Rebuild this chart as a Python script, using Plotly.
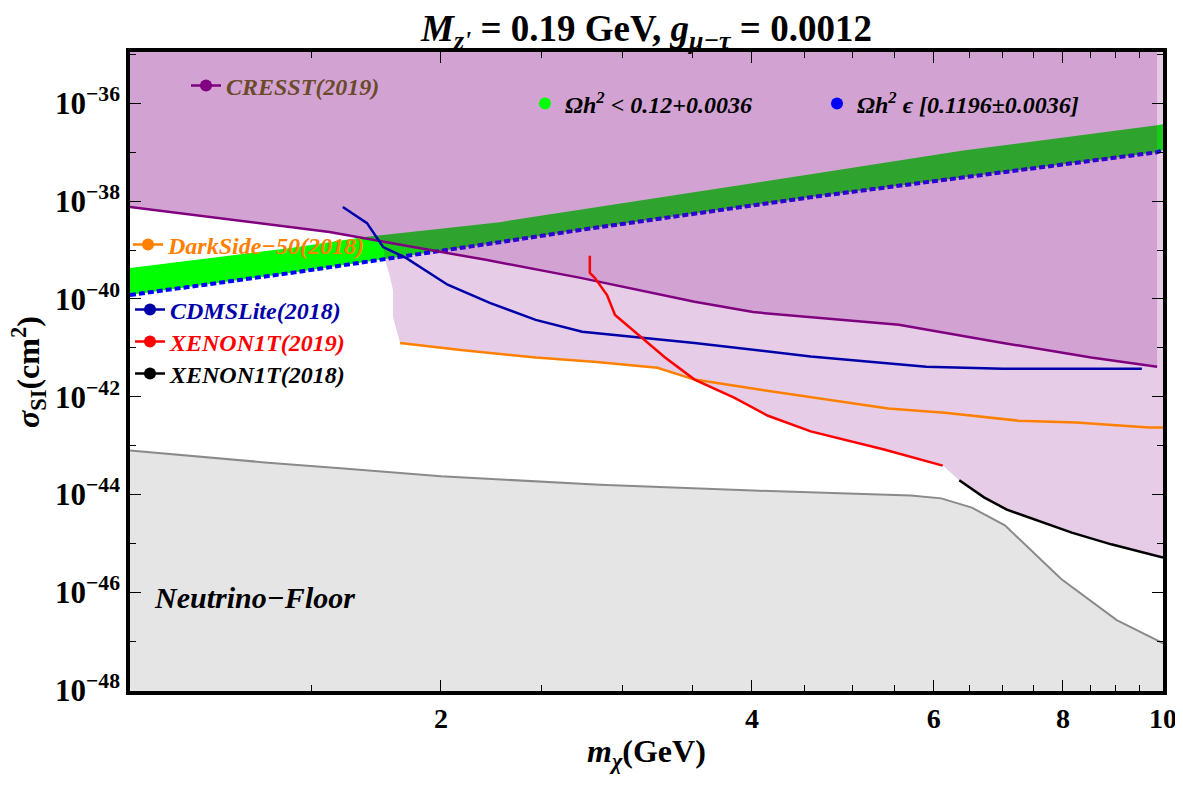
import plotly.graph_objects as go

# ---------------- data (x: m_chi in GeV, y: log10 of sigma_SI in cm^2) ----------------
cresst_x = [1.0, 1.56, 1.88, 2.21, 2.73, 3.52, 4.01, 5.55, 7.0, 8.52, 9.87]
cresst_logy = [-38.12, -38.63, -38.94, -39.20, -39.57, -40.06, -40.27, -40.53, -40.90, -41.20, -41.39]

cdms_x = [1.607, 1.696, 1.758, 1.85, 2.03, 2.23, 2.47, 2.74, 3.52, 4.56, 5.90, 7.0, 9.54]
cdms_logy = [-38.12, -38.45, -38.94, -39.16, -39.71, -40.08, -40.43, -40.67, -40.90, -41.18, -41.39, -41.43, -41.43]

ds50_x = [1.826, 2.08, 2.47, 2.83, 3.24, 3.52, 4.08, 5.42, 6.15, 7.24, 8.24, 9.69, 10.0]
ds50_logy = [-40.90, -41.04, -41.20, -41.29, -41.41, -41.65, -41.86, -42.24, -42.33, -42.49, -42.53, -42.63, -42.63]

xe19_x = [2.787, 2.787, 2.818, 2.896, 2.948, 3.296, 3.52, 3.844, 4.146, 4.56, 5.37, 6.12]
xe19_logy = [-39.12, -39.47, -39.57, -39.92, -40.33, -41.20, -41.65, -42.02, -42.39, -42.71, -43.08, -43.41]

xe18_x = [6.35, 6.71, 7.06, 8.16, 8.91, 10.0]
xe18_logy = [-43.71, -44.06, -44.31, -44.78, -45.02, -45.29]

nu_x = [1.0, 1.36, 1.61, 2.0, 2.85, 4.01, 5.70, 6.10, 6.53, 6.77, 7.03, 7.97, 9.02, 9.95, 10.0]
nu_logy = [-43.10, -43.35, -43.47, -43.63, -43.80, -43.92, -44.02, -44.08, -44.27, -44.45,
           -44.63, -45.73, -46.57, -47.02, -47.05]

# left edge of the combined exclusion region (between CRESST line and DarkSide-50 start)
edge_x = [1.754, 1.766, 1.785, 1.797, 1.797]
edge_logy = [-38.83, -39.20, -39.55, -39.82, -40.37]

# relic-density scan: lower edge (correct relic, blue) and upper edge of allowed band (green)
relic_x = [1.0, 1.43, 2.28, 2.727, 4.56, 9.87, 10.0]
relic_logy = [-39.92, -39.47, -38.84, -38.59, -37.92, -37.0, -36.96]
band_x = [1.0, 1.43, 1.696, 2.28, 2.727, 4.56, 6.43, 8.31, 9.87, 10.0]
band_top_logy = [-39.37, -38.96, -38.73, -38.43, -38.18, -37.45, -36.96, -36.66, -36.45, -36.43]

x_tick_vals = [2, 4, 6, 8, 10]
x_minor_vals = [1.5, 2.5, 3, 3.5, 4.5, 5, 5.5, 6.5, 7, 7.5, 8.5, 9, 9.5]
y_tick_exps = [-48, -46, -44, -42, -40, -38, -36]
y_minor_exps = [-47, -45, -43, -41, -39, -37, -35]

TOP = -34.0
BOTTOM = -50.0


def p(a):
    return [10.0 ** v for v in a]


FONT = '"Liberation Serif", "DejaVu Serif", "Times New Roman", serif'
PURPLE_FILL = "rgba(128,0,128,0.2)"

# the browser page adds an 8px body margin on every side
OFF = 8
PAGE_W, PAGE_H = 1183, 785
FIG_W, FIG_H = PAGE_W - 2 * OFF, PAGE_H - 2 * OFF
# plot area in page pixels
PX0, PX1, PY0, PY1 = 130, 1163, 52, 691

fig = go.Figure()

# neutrino floor
fig.add_trace(go.Scatter(x=nu_x + [nu_x[-1], nu_x[0]], y=p(nu_logy + [BOTTOM, BOTTOM]),
                         fill="toself", fillcolor="#e5e5e5", mode="lines", line=dict(width=0),
                         showlegend=False, hoverinfo="skip"))
fig.add_trace(go.Scatter(x=nu_x, y=p(nu_logy), mode="lines", line=dict(color="#8a8a8a", width=2),
                         showlegend=False))

# green band (relic density below upper bound)
fig.add_trace(go.Scatter(x=relic_x + band_x[::-1], y=p(relic_logy + band_top_logy[::-1]),
                         fill="toself", fillcolor="#00ff00", mode="lines", line=dict(width=0),
                         showlegend=False, hoverinfo="skip"))
# blue: correct relic density
fig.add_trace(go.Scatter(x=relic_x, y=p(relic_logy), mode="lines",
                         line=dict(color="#0000ff", width=4, dash="6px,3px"), showlegend=False))

# combined exclusion region (light purple)
i_ds = ds50_x.index(3.52)
i_xe = xe19_x.index(3.52)
lo_x = cresst_x[:2] + edge_x + ds50_x[:i_ds + 1] + xe19_x[i_xe + 1:] + xe18_x
lo_y = cresst_logy[:2] + edge_logy + ds50_logy[:i_ds + 1] + xe19_logy[i_xe + 1:] + xe18_logy
fig.add_trace(go.Scatter(x=lo_x + [lo_x[-1], lo_x[0]], y=p(lo_y + [TOP, TOP]),
                         fill="toself", fillcolor=PURPLE_FILL, mode="lines", line=dict(width=0),
                         showlegend=False, hoverinfo="skip"))
# CRESST region
fig.add_trace(go.Scatter(x=cresst_x + [cresst_x[-1], cresst_x[0]], y=p(cresst_logy + [TOP, TOP]),
                         fill="toself", fillcolor=PURPLE_FILL, mode="lines", line=dict(width=0),
                         showlegend=False, hoverinfo="skip"))

# limit curves
curves = [
    (cresst_x, cresst_logy, "#800080"),
    (cdms_x, cdms_logy, "#0000aa"),
    (ds50_x, ds50_logy, "#ff8000"),
    (xe19_x, xe19_logy, "#ff0000"),
    (xe18_x, xe18_logy, "#000000"),
]
for cx, cy, col in curves:
    fig.add_trace(go.Scatter(x=cx, y=p(cy), mode="lines", line=dict(color=col, width=2.5),
                             showlegend=False))

# legend entries (each placed in its own legend box)
legend_items = [
    ("legend", "CRESST(2019)", "#800080", "lines+markers"),
    ("legend2", "Ωh<sup>2</sup> &lt; 0.12+0.0036", "#00ff00", "markers"),
    ("legend3", "Ωh<sup>2</sup> ϵ [0.1196±0.0036]", "#0000ff", "markers"),
    ("legend4", "DarkSide−50(2018)", "#ff8000", "lines+markers"),
    ("legend5", "CDMSLite(2018)", "#0000aa", "lines+markers"),
    ("legend6", "XENON1T(2019)", "#ff0000", "lines+markers"),
    ("legend7", "XENON1T(2018)", "#000000", "lines+markers"),
]
for lg, name, col, mode in legend_items:
    fig.add_trace(go.Scatter(x=[None], y=[None], mode=mode, name=f"<b><i>{name}</i></b>",
                             line=dict(color=col, width=2.5), marker=dict(color=col, size=12),
                             legend=lg, showlegend=True))


def lx(px):
    return (px - PX0) / float(PX1 - PX0)


def ly(py):
    return (PY1 - py) / float(PY1 - PY0)


legend_pos = {
    "legend": (186, 86, "#6b4a2b"),
    "legend2": (525, 104, "#000000"),
    "legend3": (817, 104, "#000000"),
    "legend4": (128, 245, "#ff8000"),
    "legend5": (130, 310, "#0000aa"),
    "legend6": (130, 342, "#ff0000"),
    "legend7": (130, 374, "#000000"),
}
legend_layout = {}
for key, (px, py, tc) in legend_pos.items():
    legend_layout[key] = dict(x=lx(px), y=ly(py), xanchor="left", yanchor="middle",
                              bgcolor="rgba(0,0,0,0)", borderwidth=0, itemwidth=30,
                              font=dict(family=FONT, size=24, color=tc))

y_tick_text = [f"<b>10<sup>−{abs(e)}</sup></b>" for e in y_tick_exps]
x_tick_text = [f"<b>{v}</b>" for v in x_tick_vals]

axis_common = dict(type="log", showgrid=False, zeroline=False, showline=True, linewidth=3.5,
                   linecolor="black", mirror="allticks", ticks="inside", ticklen=11, tickwidth=1.2,
                   tickcolor="black", automargin=False, ticklabeloverflow="allow")

fig.update_layout(
    width=FIG_W, height=FIG_H,
    margin=dict(l=PX0 - OFF, r=PAGE_W - OFF - PX1, t=PY0 - OFF, b=PAGE_H - OFF - PY1),
    plot_bgcolor="white", paper_bgcolor="white",
    font=dict(family=FONT, color="black"),
    title=dict(text="<b><i>M</i><sub><i>z'</i></sub> = 0.19 GeV, <i>g</i><sub><i>μ−τ</i></sub> = 0.0012</b>",
               x=0.5, xref="paper", xanchor="center", y=1 - (28 - OFF) / FIG_H, yref="container",
               yanchor="middle", font=dict(family=FONT, size=37, color="black")),
    xaxis=dict(axis_common, range=[0, 1], tickmode="array", tickvals=x_tick_vals, ticktext=x_tick_text,
               tickfont=dict(family=FONT, size=28, color="black"),
               minor=dict(tickmode="array", tickvals=x_minor_vals, ticks="inside", ticklen=6,
                          tickwidth=1, tickcolor="black", showgrid=False)),
    yaxis=dict(axis_common, range=[-48.02, -34.95], tickmode="array", tickvals=p(y_tick_exps),
               ticktext=y_tick_text, tickfont=dict(family=FONT, size=31, color="black"),
               minor=dict(tickmode="array", tickvals=p(y_minor_exps), ticks="inside", ticklen=6,
                          tickwidth=1, tickcolor="black", showgrid=False)),
    annotations=[
        dict(text="<b><i>m</i><sub><i>χ</i></sub>(GeV)</b>", xref="paper", yref="paper",
             x=0.5, y=ly(776), xanchor="center", yanchor="bottom", showarrow=False,
             font=dict(family=FONT, size=32, color="black")),
        dict(text="<b><i>σ</i><sub>SI</sub>(cm<sup>2</sup>)</b>", xref="paper", yref="paper",
             x=lx(28), y=ly(372), xanchor="center", yanchor="middle", textangle=-90, showarrow=False,
             font=dict(family=FONT, size=32, color="black")),
        dict(text="<b><i>Neutrino−Floor</i></b>", xref="paper", yref="paper",
             x=lx(152), y=ly(597), xanchor="left", yanchor="middle", showarrow=False,
             font=dict(family=FONT, size=30, color="black")),
    ],
    **legend_layout,
)

fig.write_html("out.html")
